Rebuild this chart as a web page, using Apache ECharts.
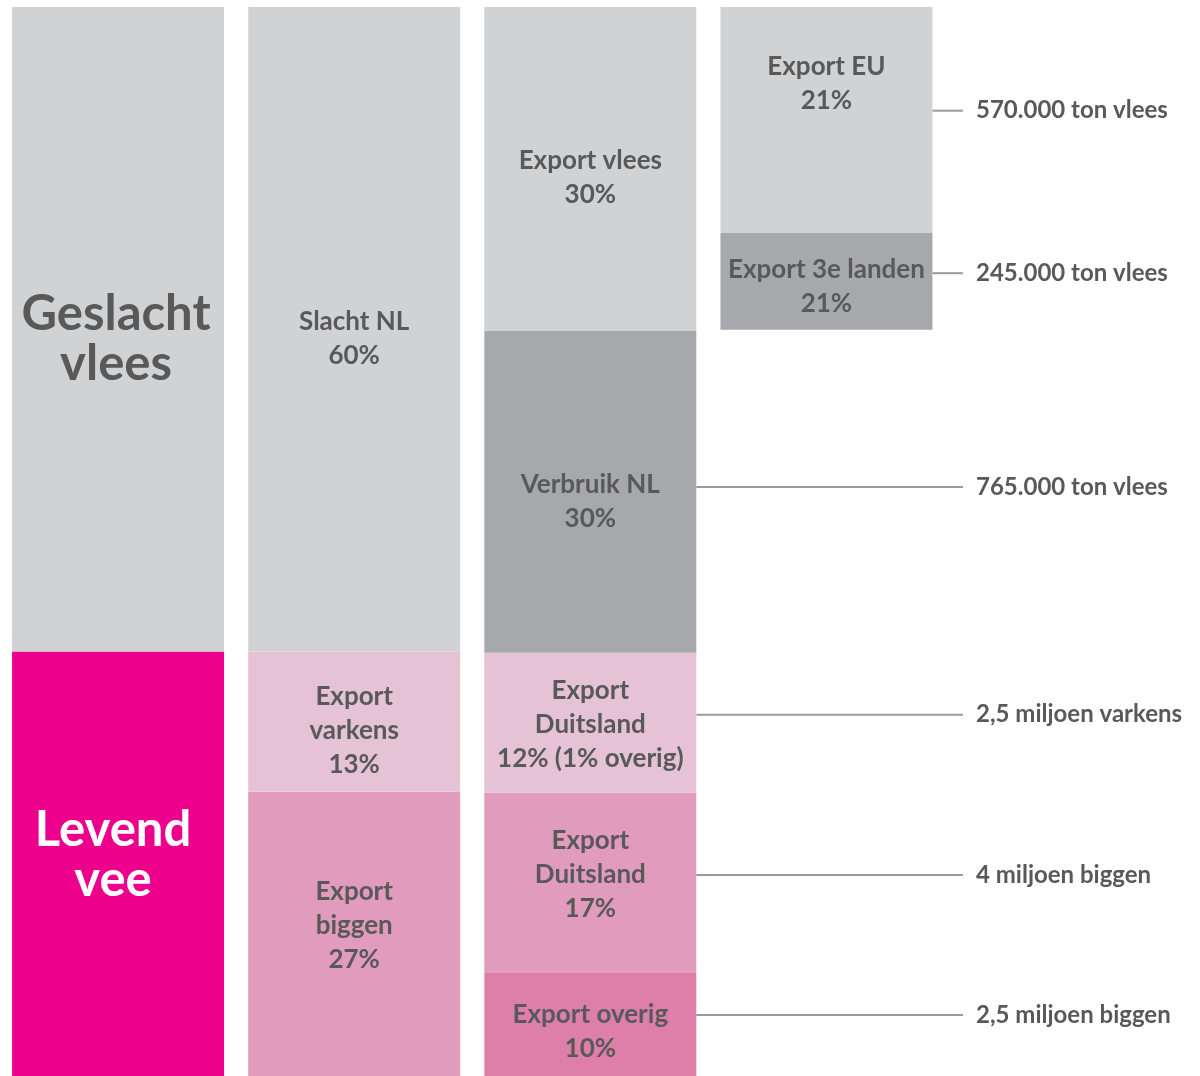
<!DOCTYPE html>
<html>
<head>
<meta charset="utf-8">
<script src="https://cdn.jsdelivr.net/npm/echarts@6/dist/echarts.min.js"></script>
<style>
html,body{margin:0;padding:0;background:#fff;}
#chart{width:1200px;height:1076px;}
</style>
</head>
<body>
<div id="chart"></div>
<script>
// ---- Data (stacked bottom -> top) ----
const categories = ['Totaal', 'Bestemming', 'Afzet', 'Export vlees'];

const col1Labels = ['Levend\nvee', 'Geslacht\nvlees'];
const col1Values = [39.7, 60.3];

const col2Labels = ['Export\nbiggen\n27%', 'Export\nvarkens\n13%', 'Slacht NL\n60%'];
const col2Values = [26.6, 13.1, 60.3];

const col3Labels = ['Export overig\n10%', 'Export\nDuitsland\n17%', 'Export\nDuitsland\n12% (1% overig)', 'Verbruik NL\n30%', 'Export vlees\n30%'];
const col3Values = [9.7, 16.8, 13.1, 30.1, 30.3];

const col4Labels = ['', 'Export 3e landen\n21%', 'Export EU\n21%'];
const col4Values = [69.8, 9.1, 21.1];

// connector annotations: [column index, value level, text]
const noteColumns = [3, 3, 2, 2, 2, 2];
const noteLevels = [90.3, 75.1, 55.1, 33.8, 18.8, 5.7];
const noteTexts = ['570.000 ton vlees', '245.000 ton vlees', '765.000 ton vlees', '2,5 miljoen varkens', '4 miljoen biggen', '2,5 miljoen biggen'];

// ---- Styles ----
const FONT = 'Lato';
const TXT = '#595959';
const col1Colors = ['#EC008C', '#D1D2D4'];
const col2Colors = ['#E19BBC', '#E5C3D4', '#D1D2D4'];
const col3Colors = ['#DE7FAA', '#E19BBC', '#E5C3D4', '#A7A8AB', '#D1D2D4'];
const col4Colors = ['rgba(0,0,0,0)', '#A7A8AB', '#D1D2D4'];
const col1Offsets = [[-5, -9], [-2, 10]];
const col2Offsets = [[0, -8], [0, 9], [0, 9]];
const col3Offsets = [[0, 7], [0, -8], [0, 2], [0, 10], [0, 9]];
const col4Offsets = [[0, 0], [0, 5], [0, -36]];

const cols = [
  {labels: col1Labels, values: col1Values, colors: col1Colors, offsets: col1Offsets},
  {labels: col2Labels, values: col2Values, colors: col2Colors, offsets: col2Offsets},
  {labels: col3Labels, values: col3Values, colors: col3Colors, offsets: col3Offsets},
  {labels: col4Labels, values: col4Values, colors: col4Colors, offsets: col4Offsets}
];

const maxLevels = Math.max(...cols.map(c => c.values.length));
const BAR_W = 212;

const series = [];
for (let lv = 0; lv < maxLevels; lv++) {
  series.push({
    type: 'bar',
    stack: 'all',
    barWidth: BAR_W,
    silent: true,
    data: cols.map((c, ci) => {
      if (lv >= c.values.length) return '-';
      const isBig = ci === 0;
      const isWhite = ci === 0 && lv === 0;
      return {
        value: c.values[lv],
        itemStyle: {color: c.colors[lv]},
        label: {
          show: c.labels[lv] !== '',
          position: 'inside',
          formatter: c.labels[lv],
          offset: c.offsets[lv],
          color: isWhite ? '#FFFFFF' : TXT,
          fontFamily: FONT,
          fontWeight: 'bold',
          fontSize: isBig ? 49 : 26,
          lineHeight: isBig ? 50 : 34,
          align: 'center'
        }
      };
    })
  });
}

series.push({
  type: 'custom',
  silent: true,
  data: noteColumns.map((c, i) => [c, noteLevels[i], noteTexts[i]]),
  renderItem: function (params, api) {
    const p = api.coord([api.value(0), api.value(1)]);
    const x0 = p[0] + BAR_W / 2;
    const x1 = 963;
    const txt = noteTexts[params.dataIndex];
    return {
      type: 'group',
      children: [
        {type: 'line', shape: {x1: x0, y1: p[1], x2: x1, y2: p[1]}, style: {stroke: '#9A9A9D', lineWidth: 2}},
        {type: 'text', style: {text: txt, x: 976, y: p[1], verticalAlign: 'middle', align: 'left', fill: TXT, font: 'bold 24px ' + FONT}}
      ]
    };
  }
});

const chart = echarts.init(document.getElementById('chart'), null, {renderer: 'canvas'});
chart.setOption({
  animation: false,
  grid: {left: -3.5, right: 255.5, top: 7, bottom: 0, containLabel: false},
  xAxis: {type: 'category', data: categories, show: false},
  yAxis: {type: 'value', min: 0, max: 100, show: false},
  series: series
});
</script>
</body>
</html>
